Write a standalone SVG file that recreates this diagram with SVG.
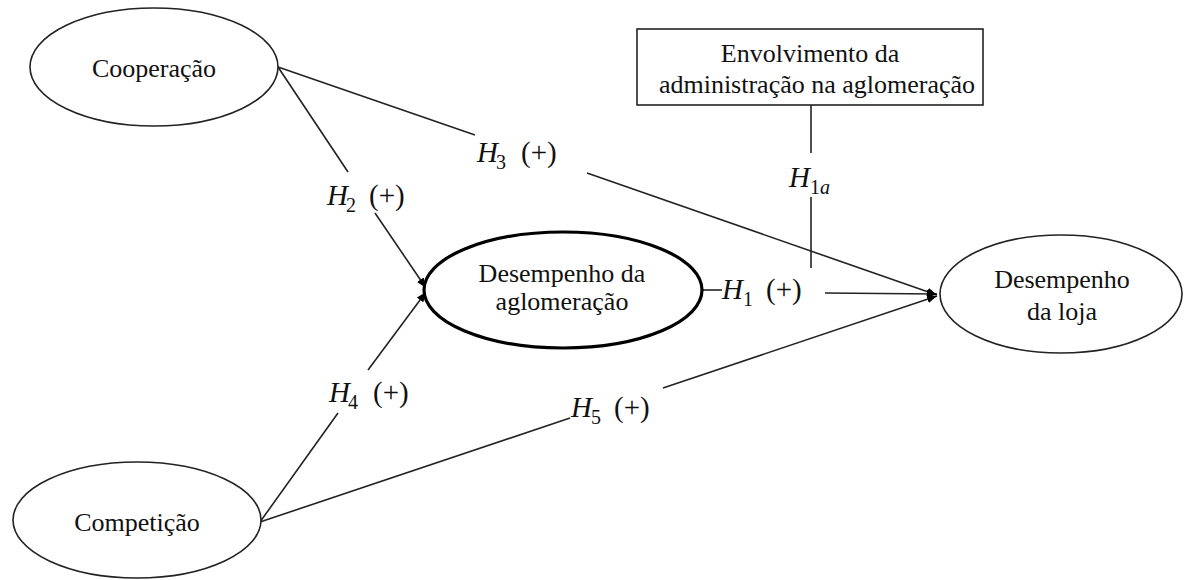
<svg xmlns="http://www.w3.org/2000/svg" width="1187" height="580" viewBox="0 0 1187 580">
<defs>
<style>
.node{fill:#fff;stroke:#222;stroke-width:1.6}
.bold{stroke:#000;stroke-width:3.2}
.lbl{font-family:"Liberation Serif","Times New Roman",serif;font-size:26px;fill:#111;text-anchor:middle}
.conn{fill:none;stroke:#222;stroke-width:1.6}
.m{font-family:"Liberation Serif","Times New Roman",serif;font-size:29px;fill:#111}
.mi{font-style:italic}
.sub{font-size:20px}
</style>
<marker id="arr" viewBox="0 0 10 8" refX="10" refY="4" markerWidth="10" markerHeight="8" markerUnits="userSpaceOnUse" orient="auto">
<path d="M0,0 L10,4 L0,8 Z" fill="#000"/>
</marker>
</defs>
<rect width="1187" height="580" fill="#fff"/>

<g id="connectors">
<path class="conn" d="M278,67 L475,135"/>
<path class="conn" d="M587,173 L937,295" marker-end="url(#arr)"/>
<path class="conn" d="M278,67 L348,172"/>
<path class="conn" d="M375,213 L426,288" marker-end="url(#arr)"/>
<path class="conn" d="M260,522 L338,413"/>
<path class="conn" d="M368,370 L426,292" marker-end="url(#arr)"/>
<path class="conn" d="M260,522 L570,418"/>
<path class="conn" d="M663,388 L937,296" marker-end="url(#arr)"/>
<path class="conn" d="M702,290 L722,290"/>
<path class="conn" d="M825,293 L937,294" marker-end="url(#arr)"/>
<path class="conn" d="M811,105 L811,153"/>
<path class="conn" d="M811,197 L811,268"/>
</g>

<g id="labels">
<text class="m"><tspan class="mi" x="477" y="162">H</tspan><tspan class="sub" x="496" y="169">3</tspan><tspan x="521" y="162">(+)</tspan></text>
<text class="m"><tspan class="mi" x="327" y="205">H</tspan><tspan class="sub" x="346" y="212">2</tspan><tspan x="369" y="205">(+)</tspan></text>
<text class="m"><tspan class="mi" x="329" y="402">H</tspan><tspan class="sub" x="348" y="409">4</tspan><tspan x="373" y="402">(+)</tspan></text>
<text class="m"><tspan class="mi" x="571" y="417">H</tspan><tspan class="sub" x="591" y="424">5</tspan><tspan x="614" y="417">(+)</tspan></text>
<text class="m"><tspan class="mi" x="722" y="299">H</tspan><tspan class="sub" x="743" y="306">1</tspan><tspan x="766" y="299">(+)</tspan></text>
<text class="m"><tspan class="mi" x="789" y="187">H</tspan><tspan class="sub" x="810" y="194">1<tspan class="mi">a</tspan></tspan></text>
</g>

<g id="cooperacao">
<ellipse class="node" cx="154" cy="67" rx="124" ry="59"/>
<text class="lbl" x="154" y="77">Cooperação</text>
</g>

<g id="competicao">
<ellipse class="node" cx="137" cy="520" rx="124" ry="58"/>
<text class="lbl" x="137" y="531">Competição</text>
</g>

<g id="desempenho-aglomeracao">
<ellipse class="node bold" cx="563" cy="290" rx="139" ry="58"/>
<text class="lbl" x="562" y="282">Desempenho da</text>
<text class="lbl" x="562" y="310">aglomeração</text>
</g>

<g id="desempenho-loja">
<ellipse class="node" cx="1061" cy="294" rx="121" ry="59"/>
<text class="lbl" x="1062" y="288">Desempenho</text>
<text class="lbl" x="1062" y="320">da loja</text>
</g>

<g id="envolvimento">
<rect class="node" x="637" y="29" width="346" height="76"/>
<text class="lbl" x="810" y="62">Envolvimento da</text>
<text class="lbl" x="817" y="93">administração na aglomeração</text>
</g>
</svg>
